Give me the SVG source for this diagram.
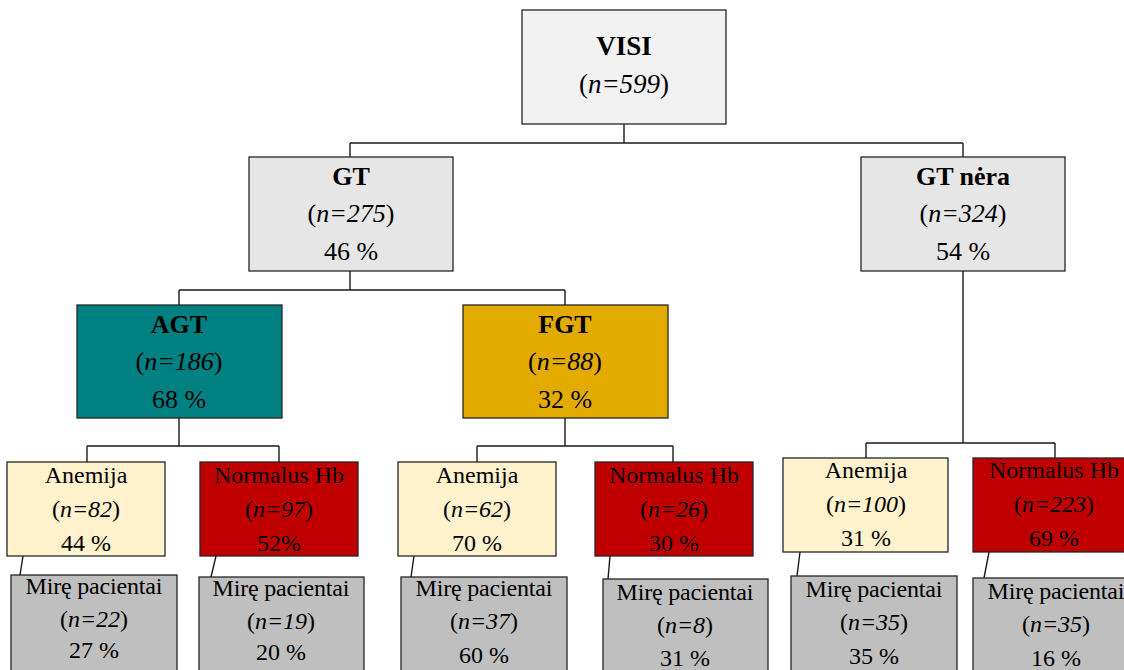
<svg xmlns="http://www.w3.org/2000/svg" width="1124" height="670" viewBox="0 0 1124 670" font-family="'Liberation Serif', 'Times New Roman', serif">
<style>
.bx{stroke:#262626;stroke-width:1.3}
.c{fill:none;stroke:#1a1a1a;stroke-width:1.4}
text{font-family:'Liberation Serif','Times New Roman',serif;fill:#000;text-anchor:middle}
.v{font-size:27px}
.t{font-size:26px}
.s{font-size:24px}
.b{font-weight:bold}
.i{font-style:italic}
.l1{fill:#f2f2f2}.l2{fill:#e6e6e6}.agt{fill:#008080}.fgt{fill:#e3ab00}
.an{fill:#fff2cc}.nh{fill:#c00000}.mp{fill:#bfbfbf}
</style>
<rect width="1124" height="670" fill="#fff"/>
<g id="connectors">
<path class="c" d="M624 124V143M350 143H963M350 143V157M963 143V157"/>
<path class="c" d="M350 271V290M179 290H565M179 290V305M565 290V305"/>
<path class="c" d="M179 418V446M87 446H279M87 446V462M279 446V462"/>
<path class="c" d="M565 418V446M477 446H673M477 446V462M673 446V462"/>
<path class="c" d="M963 271V443M866 443H1055M866 443V458M1055 443V458"/>
<path class="c" d="M23 556L20 575M216 556L211 577M414 556L411 577M610 556L608 579M800 552L797 576M989 552L984 578"/>
</g>
<g id="visi"><rect class="bx l1" x="522" y="10" width="204" height="114"/>
<text class="v b" x="624" y="55">VISI</text>
<text class="v" x="624" y="93">(<tspan class="i">n=599</tspan>)</text></g>
<g id="gt"><rect class="bx l2" x="249" y="157" width="204" height="114"/>
<text class="t b" x="351" y="185">GT</text>
<text class="t" x="351" y="222">(<tspan class="i">n=275</tspan>)</text>
<text class="t" x="351" y="260">46 %</text></g>
<g id="gtnera"><rect class="bx l2" x="861" y="157" width="204" height="114"/>
<text class="t b" x="963" y="185">GT nėra</text>
<text class="t" x="963" y="222">(<tspan class="i">n=324</tspan>)</text>
<text class="t" x="963" y="260">54 %</text></g>
<g id="agt"><rect class="bx agt" x="77" y="305" width="205" height="113"/>
<text class="t b" x="179" y="333">AGT</text>
<text class="t" x="179" y="370">(<tspan class="i">n=186</tspan>)</text>
<text class="t" x="179" y="408">68 %</text></g>
<g id="fgt"><rect class="bx fgt" x="463" y="305" width="205" height="113"/>
<text class="t b" x="565" y="333">FGT</text>
<text class="t" x="565" y="370">(<tspan class="i">n=88</tspan>)</text>
<text class="t" x="565" y="408">32 %</text></g>
<g id="an1"><rect class="bx an" x="7" y="462" width="158" height="94"/>
<text class="s" x="86" y="483">Anemija</text>
<text class="s" x="86" y="517">(<tspan class="i">n=82</tspan>)</text>
<text class="s" x="86" y="551">44 %</text></g>
<g id="nh1"><rect class="bx nh" x="200" y="462" width="158" height="94"/>
<text class="s" x="279" y="483">Normalus Hb</text>
<text class="s" x="279" y="517">(<tspan class="i">n=97</tspan>)</text>
<text class="s" x="279" y="551">52%</text></g>
<g id="an2"><rect class="bx an" x="398" y="462" width="158" height="94"/>
<text class="s" x="477" y="483">Anemija</text>
<text class="s" x="477" y="517">(<tspan class="i">n=62</tspan>)</text>
<text class="s" x="477" y="551">70 %</text></g>
<g id="nh2"><rect class="bx nh" x="595" y="462" width="158" height="94"/>
<text class="s" x="674" y="483">Normalus Hb</text>
<text class="s" x="674" y="517">(<tspan class="i">n=26</tspan>)</text>
<text class="s" x="674" y="551">30 %</text></g>
<g id="an3"><rect class="bx an" x="783" y="458" width="165" height="94"/>
<text class="s" x="866" y="478">Anemija</text>
<text class="s" x="866" y="512">(<tspan class="i">n=100</tspan>)</text>
<text class="s" x="866" y="546">31 %</text></g>
<g id="nh3"><rect class="bx nh" x="973" y="458" width="162" height="94"/>
<text class="s" x="1054" y="478">Normalus Hb</text>
<text class="s" x="1054" y="512">(<tspan class="i">n=223</tspan>)</text>
<text class="s" x="1054" y="546">69 %</text></g>
<g id="mp1"><rect class="bx mp" x="11" y="575" width="166" height="100"/>
<text class="s" x="94" y="594" textLength="137" lengthAdjust="spacing">Mirę pacientai</text>
<text class="s" x="94" y="627">(<tspan class="i">n=22</tspan>)</text>
<text class="s" x="94" y="658">27 %</text></g>
<g id="mp2"><rect class="bx mp" x="199" y="577" width="165" height="100"/>
<text class="s" x="281" y="596" textLength="137" lengthAdjust="spacing">Mirę pacientai</text>
<text class="s" x="281" y="629">(<tspan class="i">n=19</tspan>)</text>
<text class="s" x="281" y="660">20 %</text></g>
<g id="mp3"><rect class="bx mp" x="401" y="577" width="166" height="100"/>
<text class="s" x="484" y="596" textLength="137" lengthAdjust="spacing">Mirę pacientai</text>
<text class="s" x="484" y="629">(<tspan class="i">n=37</tspan>)</text>
<text class="s" x="484" y="663">60 %</text></g>
<g id="mp4"><rect class="bx mp" x="603" y="579" width="165" height="100"/>
<text class="s" x="685" y="600" textLength="137" lengthAdjust="spacing">Mirę pacientai</text>
<text class="s" x="685" y="633">(<tspan class="i">n=8</tspan>)</text>
<text class="s" x="685" y="666">31 %</text></g>
<g id="mp5"><rect class="bx mp" x="791" y="576" width="166" height="100"/>
<text class="s" x="874" y="597" textLength="137" lengthAdjust="spacing">Mirę pacientai</text>
<text class="s" x="874" y="630">(<tspan class="i">n=35</tspan>)</text>
<text class="s" x="874" y="664">35 %</text></g>
<g id="mp6"><rect class="bx mp" x="973" y="578" width="166" height="100"/>
<text class="s" x="1056" y="599" textLength="137" lengthAdjust="spacing">Mirę pacientai</text>
<text class="s" x="1056" y="632">(<tspan class="i">n=35</tspan>)</text>
<text class="s" x="1056" y="666">16 %</text></g>
</svg>
